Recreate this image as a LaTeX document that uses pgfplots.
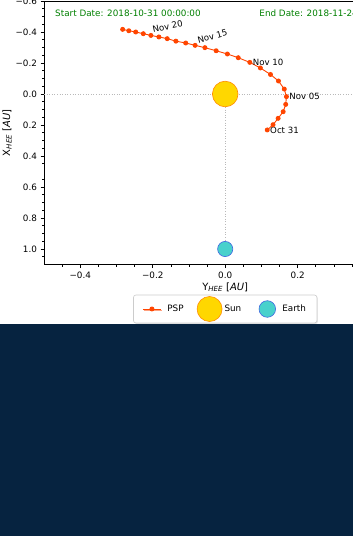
\documentclass[border=0pt]{standalone}
\usepackage{pgfplots}
\pgfplotsset{compat=1.18}
\usepackage{pgfplotstable}
\usepackage{fontspec}
\setmainfont{DejaVu Sans}
\usetikzlibrary{shadows}
\definecolor{navy}{RGB}{6,35,64}
\definecolor{psp}{RGB}{255,69,0}
\definecolor{sunfill}{RGB}{255,215,0}
\definecolor{sunedge}{RGB}{255,140,0}
\definecolor{earthfill}{RGB}{72,209,204}
\definecolor{earthedge}{RGB}{65,105,225}
\definecolor{dategreen}{RGB}{0,128,0}
\definecolor{legframe}{RGB}{204,204,204}

\newcommand{\legcell}{\pgfpathrectangle{\pgfpoint{0pt}{-12.5pt}}{\pgfpoint{18pt}{25pt}}\pgfusepath{}}
\pgfplotsset{
  psp legend/.style={legend image code/.code={\legcell
    \draw[##1, mark=none] (0pt,0pt) -- (18pt,0pt);
    \draw[##1] plot coordinates {(9pt,0pt)};}},
  sun legend/.style={legend image code/.code={\legcell
    \draw[##1, overlay, mark size=12.5pt] plot coordinates {(9pt,0pt)};}},
  earth legend/.style={legend image code/.code={\legcell
    \draw[##1, overlay, mark size=8.3pt] plot coordinates {(9pt,0pt)};}},
}

% PSP trajectory: yh = Y_HEE (horizontal), xh = X_HEE (vertical), Oct 31 .. Nov 24
\pgfplotstableread{
yh xh
0.116 0.232
0.132 0.198
0.146 0.157
0.160 0.114
0.167 0.067
0.169 0.017
0.163 -0.032
0.147 -0.084
0.125 -0.126
0.097 -0.168
0.068 -0.204
0.036 -0.234
0.006 -0.258
-0.025 -0.279
-0.056 -0.299
-0.083 -0.314
-0.109 -0.329
-0.136 -0.341
-0.160 -0.357
-0.183 -0.368
-0.205 -0.378
-0.226 -0.389
-0.247 -0.400
-0.266 -0.408
-0.283 -0.417
}\psptable

\begin{document}
\begin{tikzpicture}[x=1pt,y=1pt]
\fill[white] (0,0) rectangle (353,536);
\fill[navy] (0,0) rectangle (353,211.5);
\begin{axis}[
  at={(44pt,271.5pt)}, anchor=south west,
  scale only axis, width=362.4pt, height=263.5pt,
  xmin=-0.5, xmax=0.5, ymin=-0.6, ymax=1.1, y dir=reverse,
  axis line style={black, line width=0.8pt},
  tick pos=left, tick align=outside,
  major tick length=3.5pt, minor tick length=2pt,
  every tick/.style={black, line width=0.8pt},
  minor tick style={black, line width=0.6pt},
  xtick={-0.4,-0.2,0,0.2,0.4},
  xticklabels={−0.4,−0.2,0.0,0.2,0.4},
  ytick={-0.6,-0.4,-0.2,0,0.2,0.4,0.6,0.8,1.0},
  yticklabels={−0.6,−0.4,−0.2,0.0,0.2,0.4,0.6,0.8,1.0},
  minor xtick={-0.45,-0.35,-0.3,-0.25,-0.15,-0.1,-0.05,0.05,0.1,0.15,0.25,0.3,0.35,0.45},
  minor ytick={-0.55,-0.5,-0.45,-0.35,-0.3,-0.25,-0.15,-0.1,-0.05,0.05,0.1,0.15,0.25,0.3,0.35,0.45,0.55,0.65,0.7,0.75,0.85,0.9,0.95,1.05},
  ticklabel style={font=\fontsize{8.8}{10}\selectfont},
  xlabel={Y\textsubscript{\itshape HEE} [\textit{AU}]},
  ylabel={X\textsubscript{\itshape HEE} [\textit{AU}]},
  xlabel style={font=\fontsize{10}{12}\selectfont, at={(axis description cs:0.5,-0.0968)}, anchor=base},
  ylabel style={font=\fontsize{10}{12}\selectfont, at={(axis description cs:-0.0938,0.5)}, anchor=base},
  legend style={at={(0.5,-0.1146)}, anchor=north, legend columns=3,
    draw=legframe, rounded corners=2.5pt, line width=0.6pt, fill=white,
    drop shadow={shadow xshift=1pt, shadow yshift=-1pt, fill=gray!40},
    inner xsep=9pt, inner ysep=1.5pt,
    font=\fontsize{8.8}{10}\selectfont,
    /tikz/every odd column/.append style={column sep=4pt},
    /tikz/every even column/.append style={column sep=15pt},
    cells={anchor=west}},
]
\addplot[gray!55, line width=0.8pt, dash pattern=on 1pt off 1.6pt, forget plot] coordinates {(-0.5,0) (0.5,0)};
\addplot[gray!55, line width=0.8pt, dash pattern=on 1pt off 1.6pt, forget plot] coordinates {(0,0) (0,1)};

\addplot[psp, line width=0.9pt, mark=*, mark size=2pt, mark options={fill=psp, draw=psp}, psp legend]
  table[x=yh, y=xh] {\psptable};
\addlegendentry{PSP}

\addplot[only marks, mark=*, mark size=12.8pt, mark options={fill=sunfill, draw=sunedge, line width=0.6pt}, sun legend]
  coordinates {(0,0)};
\addlegendentry{Sun}

\addplot[only marks, mark=*, mark size=7.6pt, mark options={fill=earthfill, draw=earthedge, line width=0.6pt}, earth legend]
  coordinates {(0,1)};
\addlegendentry{Earth}

\node[anchor=west, inner sep=0, text=dategreen, font=\fontsize{8.8}{10}\selectfont] at (axis description cs:0.0304,0.9518) {Start Date: 2018-10-31 00:00:00};
\node[anchor=west, inner sep=0, text=dategreen, font=\fontsize{8.8}{10}\selectfont] at (axis description cs:0.594,0.9518) {End Date: 2018-11-24 00:00:00};

\node[anchor=west, inner sep=0, xshift=2.8pt, font=\fontsize{8.6}{10}\selectfont] at (axis cs:0.068,-0.204) {Nov 10};
\node[anchor=west, inner sep=0, xshift=2.8pt, font=\fontsize{8.6}{10}\selectfont] at (axis cs:0.169,0.017) {Nov 05};
\node[anchor=west, inner sep=0, xshift=2.8pt, font=\fontsize{8.6}{10}\selectfont] at (axis cs:0.116,0.232) {Oct 31};
\node[anchor=south west, inner sep=0, rotate=12, font=\fontsize{8.6}{10}\selectfont] at ([shift={(2.3pt,2.5pt)}]axis cs:-0.205,-0.378) {Nov 20};
\node[anchor=south west, inner sep=0, rotate=15, font=\fontsize{8.6}{10}\selectfont] at ([shift={(3.3pt,1.8pt)}]axis cs:-0.083,-0.314) {Nov 15};
\end{axis}
\pgfresetboundingbox
\path[use as bounding box] (0,0) rectangle (353,536);
\end{tikzpicture}
\end{document}
